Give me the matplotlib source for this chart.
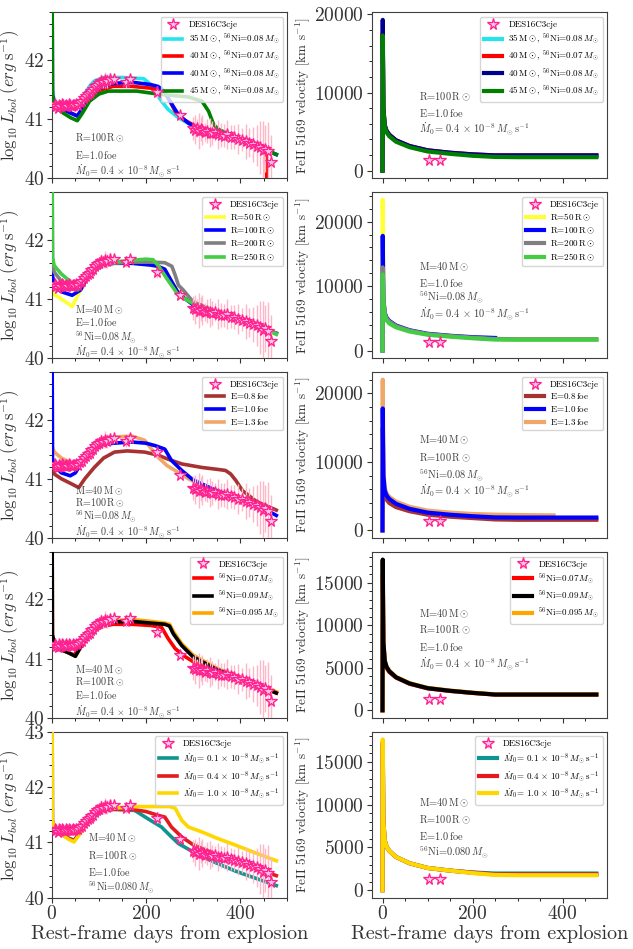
import matplotlib
matplotlib.use("Agg")
import matplotlib.pyplot as plt
from matplotlib.ticker import MultipleLocator, AutoMinorLocator

plt.rcParams['font.family'] = 'cmr10'
plt.rcParams['mathtext.fontset'] = 'cm'
plt.rcParams['axes.formatter.use_mathtext'] = True
plt.rcParams['axes.edgecolor'] = '0.25'

# observed light curve of DES16C3cje
obs_day = [7, 9, 12, 15, 18, 21, 24, 27, 30, 33, 36, 39, 42, 45, 48, 52, 56, 60, 64, 68,
           72, 76, 80, 84, 88, 92, 96, 100, 104, 108, 112, 118, 124, 131, 158, 166, 224, 272,
           300, 304, 308, 312, 316, 320, 325, 330, 335, 341, 347, 353, 360, 366, 372, 380,
           388, 396, 404, 412, 420, 428, 436, 442, 448, 454, 459, 466]
obs_L = [41.25, 41.22, 41.19, 41.24, 41.22, 41.25, 41.23, 41.21, 41.24, 41.22, 41.25, 41.23,
         41.22, 41.24, 41.23, 41.25, 41.24, 41.28, 41.30, 41.35, 41.38, 41.42, 41.44, 41.48,
         41.50, 41.55, 41.58, 41.60, 41.64, 41.62, 41.66, 41.64, 41.67, 41.68, 41.63, 41.68,
         41.45, 41.06, 40.84, 40.82, 40.85, 40.80, 40.83, 40.81, 40.78, 40.80, 40.77, 40.76,
         40.78, 40.74, 40.73, 40.72, 40.74, 40.70, 40.69, 40.66, 40.65, 40.62, 40.60, 40.57,
         40.55, 40.52, 40.47, 40.50, 40.45, 40.28]
obs_err = [0.04, 0.05, 0.04, 0.05, 0.04, 0.05, 0.04, 0.05, 0.04, 0.05, 0.04, 0.05,
           0.04, 0.05, 0.04, 0.05, 0.05, 0.06, 0.06, 0.07, 0.07, 0.08, 0.08, 0.08,
           0.09, 0.10, 0.10, 0.10, 0.12, 0.10, 0.14, 0.12, 0.10, 0.08, 0.10, 0.08,
           0.10, 0.05, 0.20, 0.25, 0.15, 0.30, 0.20, 0.25, 0.15, 0.20, 0.25, 0.20,
           0.15, 0.25, 0.20, 0.20, 0.25, 0.20, 0.20, 0.25, 0.20, 0.30, 0.25, 0.30,
           0.35, 0.45, 0.50, 0.40, 0.50, 0.45]
obs_vday = [104, 127]
obs_vel = [1350, 1350]
obs_verr = [100, 100]

# ---- row 1: progenitor mass / nickel ----
r1_cyan_d = [0, 1, 5, 20, 40, 55, 65, 80, 90, 110, 150, 195, 210, 220, 233, 247, 269, 300, 350, 400, 450, 477]
r1_cyan_L = [45, 41.5, 41.3, 41.22, 41.18, 41.2, 41.36, 41.55, 41.64, 41.7, 41.7, 41.68, 41.58, 41.45, 41.3, 41.16, 41.02, 40.88, 40.76, 40.63, 40.48, 40.4]
r1_red_d = [0, 1, 5, 20, 40, 54, 65, 80, 100, 130, 170, 210, 235, 247, 262, 280, 300, 350, 400, 440, 456, 457]
r1_red_L = [45, 41.4, 41.25, 41.18, 41.1, 41.05, 41.17, 41.35, 41.48, 41.55, 41.55, 41.52, 41.47, 41.36, 41.13, 40.99, 40.9, 40.77, 40.64, 40.52, 40.47, 39.5]
r1_blue_d = [0, 1, 5, 20, 40, 54, 65, 80, 100, 130, 170, 210, 225, 235, 251, 269, 290, 300, 350, 400, 450, 477]
r1_blue_L = [45, 41.4, 41.25, 41.18, 41.1, 41.05, 41.18, 41.38, 41.52, 41.6, 41.62, 41.58, 41.55, 41.5, 41.3, 41.07, 40.93, 40.89, 40.77, 40.64, 40.49, 40.4]
r1_green_d = [0, 1, 5, 20, 40, 54, 65, 80, 100, 120, 180, 226, 290, 319, 333, 344, 355, 400, 450, 477]
r1_green_L = [45, 41.4, 41.25, 41.12, 41.02, 40.97, 41.1, 41.3, 41.42, 41.47, 41.47, 41.42, 41.37, 41.3, 41.13, 40.9, 40.82, 40.66, 40.5, 40.4]

# ---- row 2: radius ----
r2_yellow_d = [0, 1, 5, 20, 43, 61, 75, 90, 110, 130, 170, 210, 225, 240, 254, 270, 300, 350, 400, 450, 477]
r2_yellow_L = [45, 41.1, 41.07, 41.0, 40.87, 41.15, 41.35, 41.48, 41.56, 41.6, 41.6, 41.57, 41.55, 41.5, 41.3, 41.1, 40.9, 40.77, 40.64, 40.5, 40.42]
r2_blue_d = [0, 1, 5, 20, 43, 61, 75, 90, 110, 130, 170, 210, 225, 240, 254, 270, 300, 350, 400, 450, 477]
r2_blue_L = [45, 41.4, 41.23, 41.12, 41.06, 41.15, 41.35, 41.48, 41.56, 41.6, 41.6, 41.57, 41.55, 41.5, 41.3, 41.08, 40.9, 40.77, 40.64, 40.5, 40.42]
r2_gray_d = [0, 1, 5, 20, 40, 55, 75, 90, 110, 130, 170, 210, 240, 255, 262, 269, 279, 300, 350, 400, 450, 477]
r2_gray_L = [45, 41.6, 41.45, 41.3, 41.17, 41.15, 41.35, 41.48, 41.56, 41.6, 41.62, 41.62, 41.61, 41.55, 41.4, 41.23, 41.15, 40.95, 40.78, 40.64, 40.5, 40.42]
r2_green_d = [0, 1, 5, 20, 32, 50, 75, 90, 110, 130, 170, 200, 215, 226, 247, 269, 300, 350, 400, 450, 477]
r2_green_L = [45, 41.7, 41.56, 41.42, 41.34, 41.2, 41.37, 41.5, 41.58, 41.62, 41.65, 41.67, 41.66, 41.56, 41.31, 41.06, 40.92, 40.78, 40.64, 40.5, 40.4]

# ---- row 3: explosion energy ----
r3_brown_d = [0, 1, 5, 20, 40, 57, 70, 90, 110, 133, 160, 197, 225, 247, 276, 319, 350, 369, 380, 391, 405, 434, 477]
r3_brown_L = [45, 41.2, 41.08, 41.0, 40.92, 40.85, 41.0, 41.19, 41.35, 41.45, 41.47, 41.45, 41.4, 41.33, 41.25, 41.19, 41.16, 41.14, 41.08, 40.97, 40.8, 40.62, 40.47]
r3_blue_d = [0, 1, 5, 20, 39, 50, 61, 75, 90, 110, 130, 170, 200, 219, 240, 254, 276, 300, 350, 400, 450, 477]
r3_blue_L = [45, 41.35, 41.22, 41.1, 41.05, 41.1, 41.25, 41.38, 41.5, 41.57, 41.6, 41.62, 41.6, 41.56, 41.5, 41.31, 41.14, 40.98, 40.8, 40.65, 40.5, 40.38]
r3_orange_d = [0, 1, 5, 20, 40, 54, 65, 80, 100, 120, 170, 197, 212, 226, 245, 262, 290, 320, 350, 380]
r3_orange_L = [45, 41.55, 41.45, 41.35, 41.27, 41.22, 41.3, 41.47, 41.62, 41.7, 41.72, 41.65, 41.5, 41.36, 41.22, 41.14, 41.0, 40.88, 40.8, 40.72]

# ---- row 4: nickel mass ----
r4_red_d = [0, 1, 5, 20, 35, 47, 60, 75, 90, 110, 130, 170, 210, 233, 247, 262, 280, 300, 350, 400, 450, 477]
r4_red_L = [45, 41.4, 41.28, 41.15, 41.1, 41.06, 41.2, 41.35, 41.47, 41.55, 41.58, 41.58, 41.56, 41.53, 41.34, 41.17, 41.05, 40.95, 40.78, 40.64, 40.5, 40.42]
r4_black_d = [0, 1, 5, 20, 35, 50, 60, 75, 90, 110, 130, 170, 210, 240, 250, 258, 276, 300, 350, 400, 450, 477]
r4_black_L = [45, 41.4, 41.28, 41.15, 41.1, 41.04, 41.18, 41.36, 41.5, 41.58, 41.62, 41.63, 41.6, 41.58, 41.55, 41.42, 41.22, 41.03, 40.82, 40.66, 40.51, 40.42]
r4_orange_d = [0, 1, 5, 20, 35, 50, 60, 75, 90, 110, 130, 170, 210, 240, 250, 258, 276, 300, 350, 400, 450, 477]
r4_orange_L = [45, 41.4, 41.28, 41.15, 41.1, 41.04, 41.18, 41.37, 41.52, 41.6, 41.64, 41.66, 41.63, 41.6, 41.58, 41.46, 41.25, 41.06, 40.84, 40.68, 40.53, 40.44]

# ---- row 5: mass-loss rate ----
r5_teal_d = [0, 1, 5, 20, 35, 47, 60, 75, 90, 110, 130, 176, 204, 233, 247, 269, 319, 391, 477]
r5_teal_L = [45, 41.4, 41.28, 41.15, 41.08, 41.04, 41.18, 41.35, 41.48, 41.56, 41.6, 41.58, 41.43, 41.28, 41.16, 40.98, 40.74, 40.48, 40.22]
r5_red_d = [0, 1, 5, 20, 35, 47, 60, 75, 90, 110, 130, 170, 200, 226, 240, 254, 276, 300, 350, 400, 450, 477]
r5_red_L = [45, 41.4, 41.28, 41.15, 41.08, 41.03, 41.18, 41.36, 41.5, 41.57, 41.6, 41.6, 41.56, 41.49, 41.46, 41.28, 41.1, 40.96, 40.78, 40.62, 40.48, 40.4]
r5_yellow_d = [0, 1, 5, 20, 35, 47, 60, 75, 90, 110, 130, 180, 250, 262, 276, 290, 319, 350, 391, 430, 477]
r5_yellow_L = [45, 41.4, 41.28, 41.15, 41.06, 41.01, 41.16, 41.35, 41.5, 41.58, 41.62, 41.65, 41.65, 41.62, 41.4, 41.28, 41.19, 41.08, 40.95, 40.82, 40.67]

# ---- FeII 5169 velocities ----
vel_day = [0, 0.5, 2, 5, 9, 15, 30, 60, 100, 150, 200, 250, 300, 475]
r1_cyan_v = [0, 17000, 7800, 5700, 5000, 4500, 3800, 3100, 2550, 2250, 2030, 1880, 1880, 1880]
r1_red_v = [0, 17600, 8000, 5800, 5100, 4600, 3880, 3150, 2600, 2290, 2080, 1950, 1950, 1950]
r1_blue_v = [0, 19300, 8000, 5800, 5100, 4600, 3880, 3150, 2600, 2290, 2080, 1950, 1950, 1950]
r1_green_v = [0, 17300, 7800, 5600, 4900, 4400, 3700, 3000, 2450, 2150, 1900, 1750, 1720, 1720]
r2_yellow_v = [0, 23400, 7800, 5700, 5000, 4500, 3800, 3100, 2550, 2250, 2000, 1800, 1750, 1750]
r2_blue_v = [0, 17800, 8000, 5800, 5100, 4600, 3880, 3150, 2600, 2290, 2070, 1950]
r2_gray_v = [0, 12900, 7900, 5700, 5000, 4500, 3800, 3100, 2550, 2250, 2000, 1800, 1750, 1750]
r2_green_v = [0, 11800, 7500, 5400, 4700, 4200, 3600, 2950, 2450, 2150, 1900, 1700, 1680, 1680]
r3_brown_v = [0, 15000, 7200, 5200, 4500, 4000, 3400, 2800, 2300, 2000, 1800, 1600, 1550, 1550]
r3_blue_v = [0, 17800, 8000, 5800, 5100, 4600, 3880, 3150, 2600, 2290, 2070, 1900, 1880, 1880]
r3_orange_day = [0, 0.5, 2, 5, 9, 15, 30, 60, 100, 150, 200, 250, 300, 380]
r3_orange_v = [0, 22000, 8500, 6200, 5400, 4900, 4200, 3450, 2900, 2600, 2400, 2300, 2250, 2200]
r4_red_v = [0, 16000, 7900, 5700, 5000, 4500, 3850, 3120, 2580, 2270, 2040, 1850, 1850, 1850]
r4_black_v = [0, 17700, 8000, 5800, 5100, 4600, 3880, 3150, 2600, 2290, 2050, 1850, 1850, 1850]
r4_orange_v = [0, 17500, 8050, 5850, 5150, 4650, 3920, 3190, 2640, 2320, 2080, 1880, 1880, 1880]
r5_teal_v = [0, 17000, 8000, 5800, 5100, 4600, 3880, 3150, 2600, 2290, 2070, 1950, 1950, 1950]
r5_red_v = [0, 17300, 8000, 5800, 5100, 4600, 3880, 3150, 2600, 2290, 2050, 1850, 1850, 1850]
r5_yellow_v = [0, 17600, 8000, 5800, 5100, 4600, 3880, 3150, 2600, 2290, 2000, 1780, 1750, 1750]

# labels
msun = r'$\,\mathrm{M}\odot$'
rsun = r'$\,\mathrm{R}\odot$'
mdot = r'$\dot{M}_0\!=\,$'
r1_labels = ['35' + msun + r', $^{56}$Ni=0.08$\,M_{\odot}$', '40' + msun + r', $^{56}$Ni=0.07$\,M_{\odot}$',
             '40' + msun + r', $^{56}$Ni=0.08$\,M_{\odot}$', '45' + msun + r', $^{56}$Ni=0.08$\,M_{\odot}$']
r2_labels = ['R=50' + rsun, 'R=100' + rsun, 'R=200' + rsun, 'R=250' + rsun]
r3_labels = [r'E=0.8$\,$foe', r'E=1.0$\,$foe', r'E=1.3$\,$foe']
r4_labels = [r'$^{56}$Ni=0.07$\,M_{\odot}$', r'$^{56}$Ni=0.09$\,M_{\odot}$', r'$^{56}$Ni=0.095$\,M_{\odot}$']
r5_labels = [mdot + r'$0.1\,\times\,10^{-8}\,M_{\odot}\,\mathrm{s}^{-1}$',
             mdot + r'$0.4\,\times\,10^{-8}\,M_{\odot}\,\mathrm{s}^{-1}$',
             mdot + r'$1.0\,\times\,10^{-8}\,M_{\odot}\,\mathrm{s}^{-1}$']

t_M = 'M=40' + msun
t_R = 'R=100' + rsun
t_E = r'E=1.0$\,$foe'
t_Ni = r'$^{56}$Ni=0.08$\,M_{\odot}$'
t_Ni5 = r'$^{56}$Ni=0.080$\,M_{\odot}$'
t_Md = mdot + r'$0.4\,\times\,10^{-8}\,M_{\odot}\,\mathrm{s}^{-1}$'

rows = [
    dict(lc=[(r1_cyan_d, r1_cyan_L), (r1_red_d, r1_red_L), (r1_blue_d, r1_blue_L), (r1_green_d, r1_green_L)],
         vc=[(vel_day, r1_cyan_v), (vel_day, r1_red_v), (vel_day, r1_blue_v), (vel_day, r1_green_v)],
         colors=['#22e5ee', 'red', 'blue', 'green'], vcolors=['#22e5ee', 'red', '#000090', 'green'],
         z=[2, 3, 4, 5], labels=r1_labels, ytop=42.8, vstep=10000,
         ltxt=[(t_R, 0.24), (t_E, 0.14), (t_Md, 0.045)], lx=0.1,
         rtxt=[(t_R, 0.49), (t_E, 0.39), (t_Md, 0.30)]),
    dict(lc=[(r2_yellow_d, r2_yellow_L), (r2_blue_d, r2_blue_L), (r2_gray_d, r2_gray_L), (r2_green_d, r2_green_L)],
         vc=[(vel_day, r2_yellow_v), (vel_day[:12], r2_blue_v), (vel_day, r2_gray_v), (vel_day, r2_green_v)],
         colors=['#ffff33', 'blue', 'gray', '#44cc44'], vcolors=['#ffff33', 'blue', 'gray', '#44cc44'],
         z=[2, 3, 4, 5], labels=r2_labels, ytop=42.8, vstep=10000,
         ltxt=[(t_M, 0.29), (t_E, 0.215), (t_Ni, 0.128), (t_Md, 0.04)], lx=0.1,
         rtxt=[(t_M, 0.55), (t_E, 0.45), (t_Ni, 0.365), (t_Md, 0.27)]),
    dict(lc=[(r3_brown_d, r3_brown_L), (r3_blue_d, r3_blue_L), (r3_orange_d, r3_orange_L)],
         vc=[(vel_day, r3_brown_v), (vel_day, r3_blue_v), (r3_orange_day, r3_orange_v)],
         colors=['#a83232', 'blue', '#f0a868'], vcolors=['#a83232', 'blue', '#f0a868'],
         z=[2, 4, 3], labels=r3_labels, ytop=42.8, vstep=10000,
         ltxt=[(t_M, 0.285), (t_R, 0.21), (t_Ni, 0.13), (t_Md, 0.035)], lx=0.1,
         rtxt=[(t_M, 0.59), (t_R, 0.485), (t_Ni, 0.38), (t_Md, 0.285)]),
    dict(lc=[(r4_red_d, r4_red_L), (r4_black_d, r4_black_L), (r4_orange_d, r4_orange_L)],
         vc=[(vel_day, r4_red_v), (vel_day, r4_black_v), (vel_day, r4_orange_v)],
         colors=['red', 'black', '#ffa500'], vcolors=['red', 'black', '#ffa500'],
         z=[2, 4, 3], labels=r4_labels, ytop=42.8, vstep=5000,
         ltxt=[(t_M, 0.29), (t_R, 0.215), (t_E, 0.135), (t_Md, 0.04)], lx=0.1,
         rtxt=[(t_M, 0.63), (t_R, 0.53), (t_E, 0.425), (t_Md, 0.33)]),
    dict(lc=[(r5_teal_d, r5_teal_L), (r5_red_d, r5_red_L), (r5_yellow_d, r5_yellow_L)],
         vc=[(vel_day, r5_teal_v), (vel_day, r5_red_v), (vel_day, r5_yellow_v)],
         colors=['#10948f', '#e41a1c', '#ffd700'], vcolors=['#10948f', '#e41a1c', '#ffd700'],
         z=[2, 3, 4], labels=r5_labels, ytop=43, vstep=5000,
         ltxt=[(t_M, 0.36), (t_R, 0.25), (t_E, 0.155), (t_Ni5, 0.065)], lx=0.155,
         rtxt=[(t_M, 0.57), (t_R, 0.47), (t_E, 0.37), (t_Ni5, 0.275)]),
]

fig, axes = plt.subplots(5, 2, figsize=(6.33, 9.49))
plt.subplots_adjust(left=0.082, right=0.959, top=0.987, bottom=0.054, wspace=0.36, hspace=0.085)

star = dict(fmt='*', ms=8.5, mfc='#ffc4e1', mec='#ff1f8f', mew=0.9, ecolor='#ffb6c8',
            elinewidth=1.0, label='DES16C3cje')
leg_kw = dict(loc='upper right', fontsize=6.5, handlelength=2.0, borderpad=0.4,
              labelspacing=0.3, handletextpad=0.7)


def put_legend(ax):
    h, l = ax.get_legend_handles_labels()
    ax.legend(h[-1:] + h[:-1], l[-1:] + l[:-1], **leg_kw)


for i, row in enumerate(rows):
    axL, axR = axes[i]

    # luminosity
    axL.errorbar(obs_day, obs_L, yerr=obs_err, xerr=[0] * len(obs_day), zorder=6, **star)
    for (d, L), c, z, lab in zip(row['lc'], row['colors'], row['z'], row['labels']):
        axL.plot(d, L, color=c, lw=2.6, zorder=z, label=lab)
    axL.set_xlim(0, 500)
    axL.set_ylim(40, row['ytop'])
    axL.yaxis.set_major_locator(MultipleLocator(1))
    axL.yaxis.set_minor_locator(AutoMinorLocator(5))
    axL.xaxis.set_major_locator(MultipleLocator(200))
    axL.xaxis.set_minor_locator(MultipleLocator(50))
    axL.tick_params(labelsize=14, colors='0.2', pad=2)
    axL.set_ylabel(r'$\log_{10}L_{bol}\;(erg\;\mathrm{s}^{-1})$', fontsize=12, color='0.2', labelpad=1)
    for t, y in row['ltxt']:
        axL.text(row['lx'], y, t, transform=axL.transAxes, fontsize=7.2, color='0.25', va='center')
    put_legend(axL)

    # velocity
    axR.errorbar(obs_vday, obs_vel, yerr=obs_verr, xerr=[0, 0], zorder=6, **star)
    for (d, v), c, z, lab in zip(row['vc'], row['vcolors'], row['z'], row['labels']):
        axR.plot(d, v, color=c, lw=3, zorder=z, label=lab)
    axR.xaxis.set_major_locator(MultipleLocator(200))
    axR.xaxis.set_minor_locator(MultipleLocator(50))
    axR.yaxis.set_major_locator(MultipleLocator(row['vstep']))
    axR.yaxis.set_minor_locator(AutoMinorLocator(5))
    axR.tick_params(labelsize=14, colors='0.2', pad=2)
    axR.set_ylabel(r'FeII 5169 velocity [km s$^{-1}$]', fontsize=9.5, color='0.2', labelpad=2)
    for t, y in row['rtxt']:
        axR.text(0.2, y, t, transform=axR.transAxes, fontsize=7.5, color='0.25', va='center')
    put_legend(axR)

    if i < 4:
        axL.set_xticklabels([])
        axR.set_xticklabels([])
    else:
        axL.set_xlabel('Rest-frame days from explosion', fontsize=14.5, color='0.2', labelpad=1)
        axR.set_xlabel('Rest-frame days from explosion', fontsize=14.5, color='0.2', labelpad=1)

fig.savefig('out.png', dpi=100)
